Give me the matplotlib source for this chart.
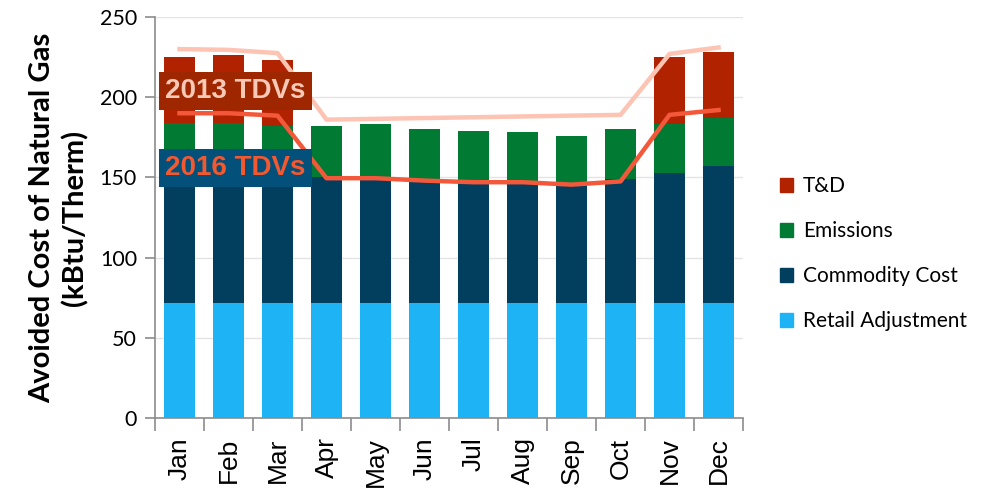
import numpy as np
import matplotlib.pyplot as plt
from matplotlib.patches import Patch
from matplotlib.ticker import MultipleLocator

plt.rcParams['font.family'] = ['Lato', 'DejaVu Sans']

months = ['Jan', 'Feb', 'Mar', 'Apr', 'May', 'Jun',
          'Jul', 'Aug', 'Sep', 'Oct', 'Nov', 'Dec']

# 各成分（kBtu/Therm）
retail = [72, 72, 72, 72, 72, 72, 72, 72, 72, 72, 72, 72]
commodity = [76, 76, 76, 78, 78, 76, 75, 75, 73, 77, 81, 85]
emissions = [36, 36, 34, 32, 33, 32, 32, 31, 31, 31, 30, 30]
td = [41, 42, 41, 0, 0, 0, 0, 0, 0, 0, 42, 41]

tdv_2013 = [230, 229.5, 227.5, 186, 186.5, 187, 187.5, 188, 188.5, 189, 227, 231]
tdv_2016 = [190, 190, 188.5, 149.5, 149.5, 148, 147, 147, 145.5, 147.5, 189, 192]

c_retail = '#1DB3F5'
c_comm = '#023F5F'
c_emis = '#017A33'
c_td = '#B02200'
c_2013 = '#FDC3B3'
c_2016 = '#F4583A'

fig = plt.figure(figsize=(9.91, 5.0), dpi=100)
ax = fig.add_axes([0.1564, 0.164, 0.5934, 0.802])

x = np.arange(len(months))
w = 0.65
b1 = np.array(retail)
b2 = b1 + np.array(commodity)
b3 = b2 + np.array(emissions)

ax.bar(x, retail, w, color=c_retail, zorder=2)
ax.bar(x, commodity, w, bottom=b1, color=c_comm, zorder=2)
ax.bar(x, emissions, w, bottom=b2, color=c_emis, zorder=2)
ax.bar(x, td, w, bottom=b3, color=c_td, zorder=2)

ax.plot(x, tdv_2013, color=c_2013, lw=3.2, zorder=3, solid_joinstyle='round')
ax.plot(x, tdv_2016, color=c_2016, lw=3.2, zorder=3, solid_joinstyle='round')

# 标注框
ax.text(1.14, 204, '2013 TDVs', ha='center', va='center', fontsize=20,
        fontweight='bold', family='Liberation Sans', color='#F9C9B8', zorder=4,
        bbox=dict(boxstyle='square,pad=0.22', fc='#9E2700', ec='none'))
ax.text(1.14, 156, '2016 TDVs', ha='center', va='center', fontsize=20,
        fontweight='bold', family='Liberation Sans', color='#F4582F', zorder=4,
        bbox=dict(boxstyle='square,pad=0.22', fc='#03507A', ec='none'))

ax.set_xlim(-0.5, 11.5)
ax.set_ylim(0, 250)
ax.yaxis.set_major_locator(MultipleLocator(50))
ax.grid(axis='y', color='#E4E4E4', lw=1, zorder=0)
ax.set_axisbelow(True)

ax.set_xticks(x)
ax.set_xticklabels(months, rotation=90, fontsize=19, family='Liberation Sans')
ax.set_xticks(np.arange(-0.5, 12, 1), minor=True)
ax.tick_params(axis='x', which='major', length=0, pad=14)
ax.tick_params(axis='x', which='minor', length=9, width=1.2, color='#8C8C8C')
ax.tick_params(axis='y', length=7, width=1.2, color='#8C8C8C', labelsize=15.5, pad=6)

for s in ['top', 'right']:
    ax.spines[s].set_visible(False)
for s in ['left', 'bottom']:
    ax.spines[s].set_color('#8C8C8C')
    ax.spines[s].set_linewidth(1.2)

ax.set_ylabel('Avoided Cost of Natural Gas\n(kBtu/Therm)', fontsize=21,
              fontweight='bold', labelpad=8, linespacing=1.3)

handles = [Patch(color=c_td), Patch(color=c_emis), Patch(color=c_comm), Patch(color=c_retail)]
labels = ['T&D', 'Emissions', 'Commodity Cost', 'Retail Adjustment']
fig.legend(handles, labels, loc='center left', bbox_to_anchor=(0.768, 0.493),
           frameon=False, fontsize=15, handlelength=0.65, handleheight=0.65,
           handletextpad=0.45, labelspacing=1.2)

fig.savefig('out.png', dpi=100)
